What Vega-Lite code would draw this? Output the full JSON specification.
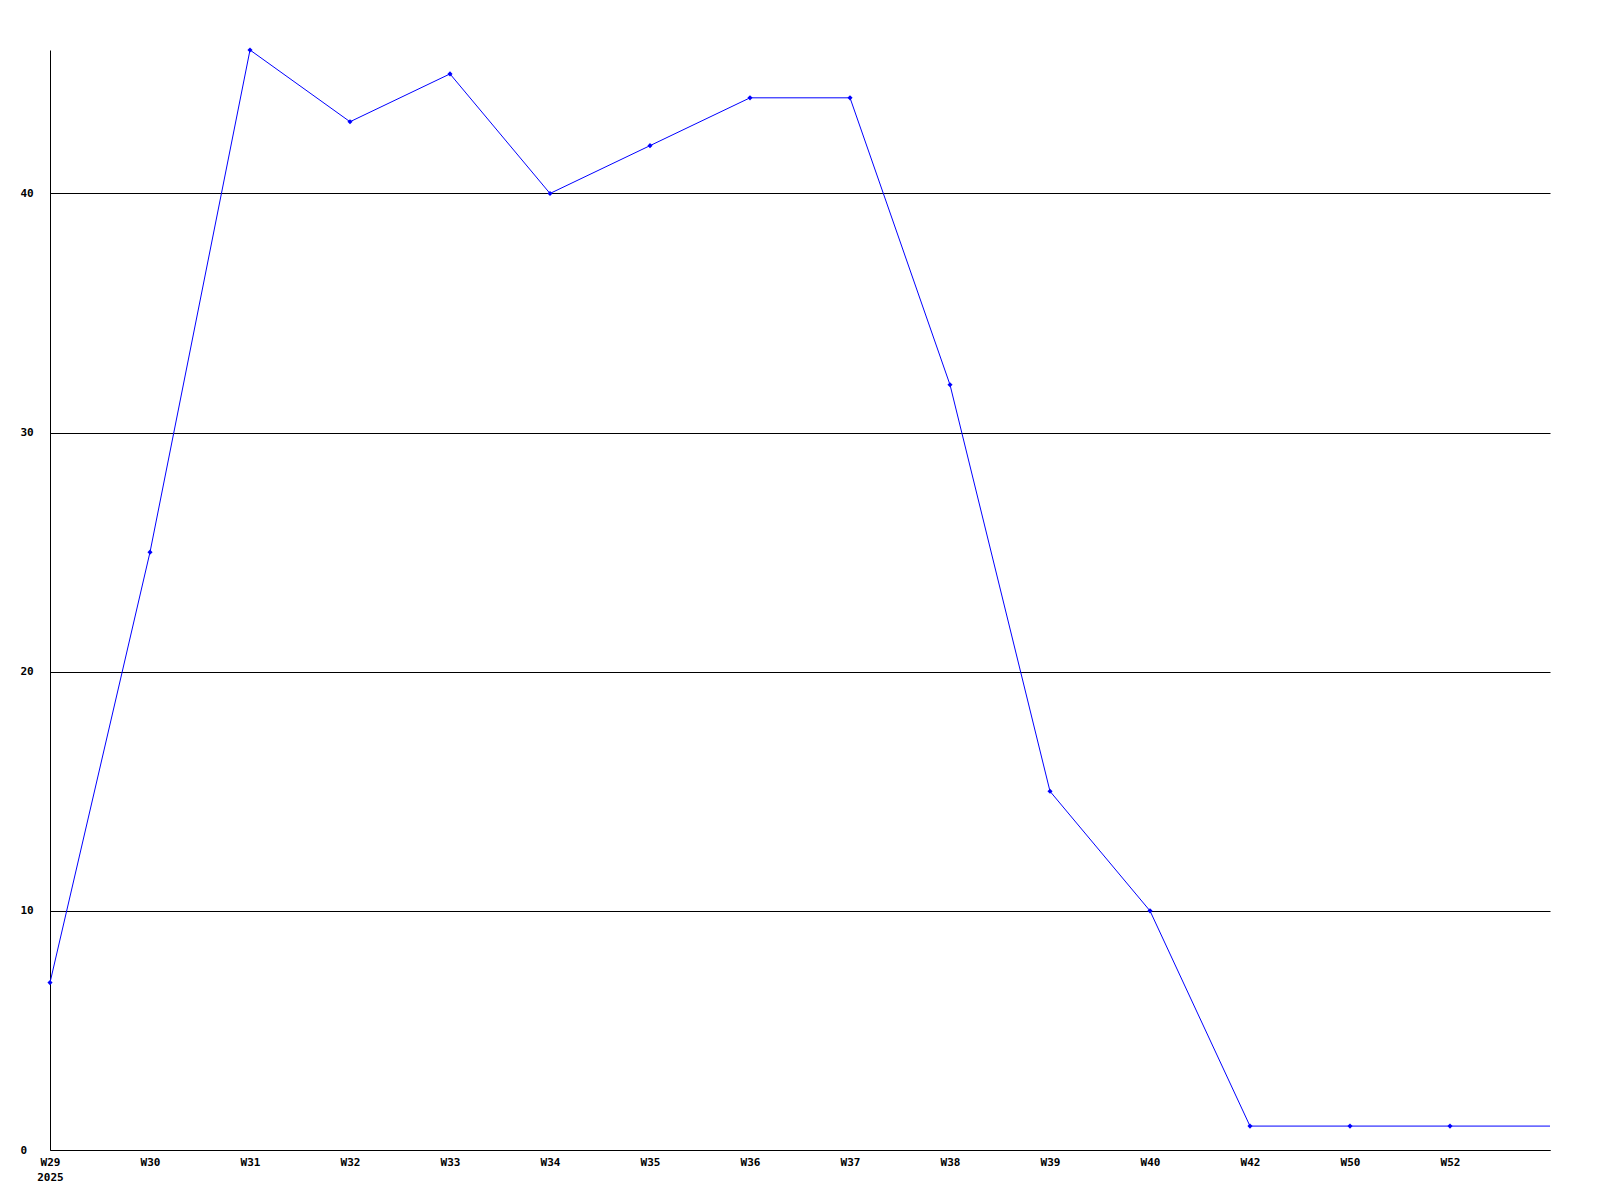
{
  "$schema": "https://vega.github.io/schema/vega-lite/v6.json",
  "width": 1500,
  "height": 1100,
  "autosize": {"type": "none"},
  "padding": {"left": 50, "top": 50, "right": 50, "bottom": 50},
  "background": "white",
  "config": {
    "view": {"stroke": null},
    "axis": {
      "labelFont": "DejaVu Sans Mono",
      "labelFontWeight": "bold",
      "labelFontSize": 11,
      "labelColor": "black",
      "domainColor": "black",
      "domainWidth": 1,
      "ticks": false,
      "title": null
    }
  },
  "data": {
    "values": [
      {"i": 0, "week": "W29", "value": 7},
      {"i": 1, "week": "W30", "value": 25},
      {"i": 2, "week": "W31", "value": 46},
      {"i": 3, "week": "W32", "value": 43},
      {"i": 4, "week": "W33", "value": 45},
      {"i": 5, "week": "W34", "value": 40},
      {"i": 6, "week": "W35", "value": 42},
      {"i": 7, "week": "W36", "value": 44},
      {"i": 8, "week": "W37", "value": 44},
      {"i": 9, "week": "W38", "value": 32},
      {"i": 10, "week": "W39", "value": 15},
      {"i": 11, "week": "W40", "value": 10},
      {"i": 12, "week": "W42", "value": 1},
      {"i": 13, "week": "W50", "value": 1},
      {"i": 14, "week": "W52", "value": 1},
      {"i": 15, "week": "", "value": 1}
    ]
  },
  "encoding": {
    "x": {
      "field": "i",
      "type": "quantitative",
      "scale": {"domain": [0, 15], "nice": false, "zero": false},
      "axis": {
        "values": [0, 1, 2, 3, 4, 5, 6, 7, 8, 9, 10, 11, 12, 13, 14],
        "labelExpr": "datum.value == 0 ? ['W29', '2025 '] : ['W29','W30','W31','W32','W33','W34','W35','W36','W37','W38','W39','W40','W42','W50','W52'][datum.value]",
        "labelPadding": 6,
        "labelBaseline": "top",
        "labelLineHeight": 15,
        "labelFlush": false,
        "labelOverlap": false,
        "grid": false
      }
    },
    "y": {
      "field": "value",
      "type": "quantitative",
      "scale": {"domain": [0, 46], "nice": false},
      "axis": {
        "values": [0, 10, 20, 30, 40],
        "grid": true,
        "gridColor": "black",
        "gridOpacity": 1,
        "gridWidth": 1,
        "labelAlign": "left",
        "labelPadding": 30,
        "labelBaseline": "middle"
      }
    }
  },
  "layer": [
    {
      "mark": {"type": "line", "color": "#0000ff", "strokeWidth": 1}
    },
    {
      "transform": [{"filter": "datum.week != ''"}],
      "mark": {"type": "point", "shape": "diamond", "filled": true, "color": "#0000ff", "size": 26, "opacity": 1}
    }
  ]
}
